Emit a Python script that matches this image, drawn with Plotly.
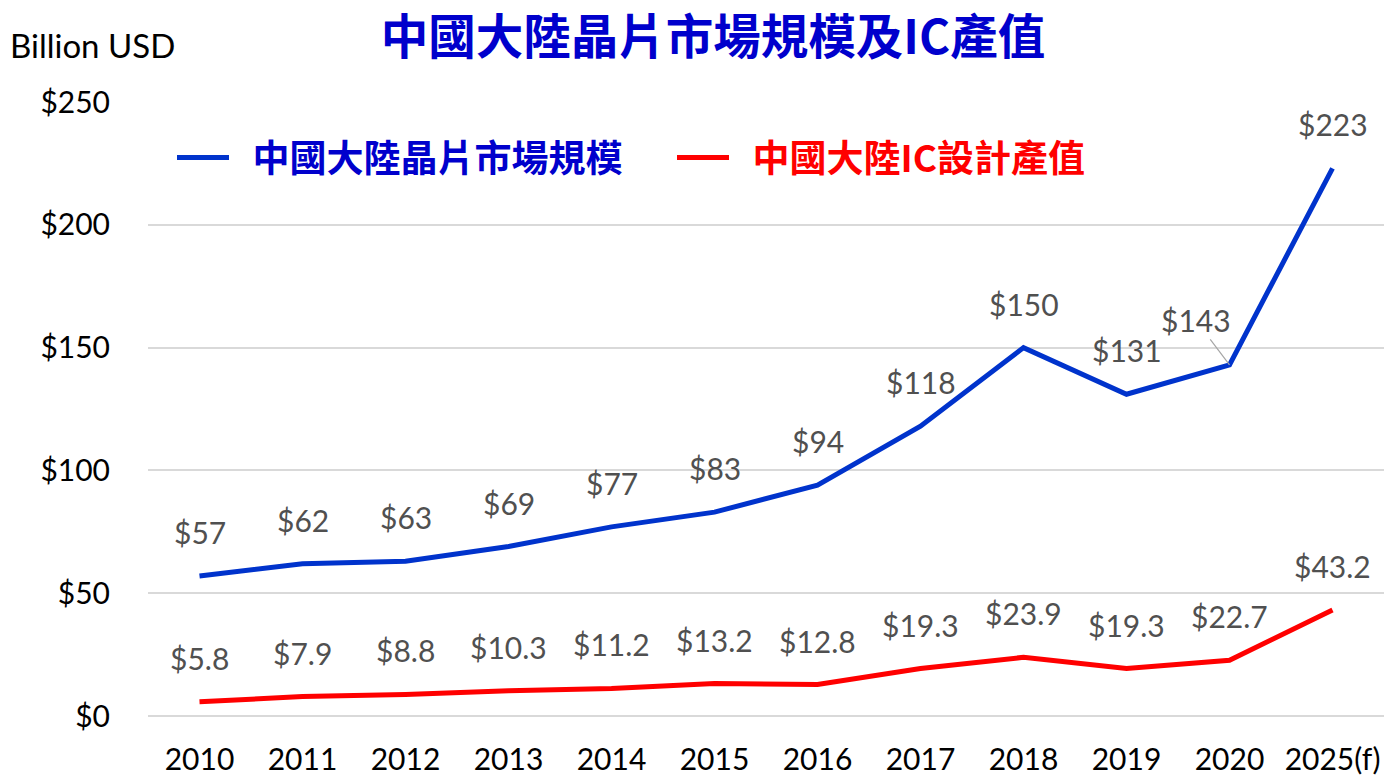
import plotly.graph_objects as go

categories = ["2010", "2011", "2012", "2013", "2014", "2015", "2016", "2017", "2018", "2019", "2020", "2025(f)"]
market = [57, 62, 63, 69, 77, 83, 94, 118, 150, 131, 143, 223]
design = [5.8, 7.9, 8.8, 10.3, 11.2, 13.2, 12.8, 19.3, 23.9, 19.3, 22.7, 43.2]
market_labels = ["$57", "$62", "$63", "$69", "$77", "$83", "$94", "$118", "$150", "$131", "$143", "$223"]
design_labels = ["$5.8", "$7.9", "$8.8", "$10.3", "$11.2", "$13.2", "$12.8", "$19.3", "$23.9", "$19.3", "$22.7", "$43.2"]
ytick_vals = [0, 50, 100, 150, 200, 250]
ytick_text = ["$0", "$50", "$100", "$150", "$200", "$250"]

name_market = "中國大陸晶片市場規模"
name_design = "中國大陸IC設計產值"
title_text = "中國大陸晶片市場規模及IC產值"

BLUE_LINE = "#0033CC"
BLUE_TEXT = "#0000CC"
RED = "#FF0000"
LABEL = "#505050"
CJK = "Noto Sans CJK TC"
LAT = "Lato, Noto Sans, sans-serif"
GAP = "\u2002"

fig = go.Figure()
fig.add_trace(go.Scatter(
    x=categories, y=market, mode="lines",
    line=dict(color=BLUE_LINE, width=5),
    name=f"{GAP}<span style='color:{BLUE_TEXT}'><b>{name_market}</b></span>",
))
fig.add_trace(go.Scatter(
    x=categories, y=design, mode="lines",
    line=dict(color=RED, width=5),
    name=f"{GAP}<span style='color:{RED}'><b>{name_design}</b></span>",
))

annotations = []
for i, (c, v, t) in enumerate(zip(categories, market, market_labels)):
    if c == "2020":
        annotations.append(dict(
            x=i, y=v, text=t, showarrow=True, ax=-34, ay=-45,
            arrowhead=0, arrowwidth=1.2, arrowcolor="#A6A6A6", standoff=0,
            font=dict(family=LAT, size=30, color=LABEL),
        ))
    else:
        annotations.append(dict(
            x=i, y=v, text=t, showarrow=False, yshift=44,
            font=dict(family=LAT, size=30, color=LABEL),
        ))
for i, (c, v, t) in enumerate(zip(categories, design, design_labels)):
    annotations.append(dict(
        x=i, y=v, text=t, showarrow=False, yshift=44,
        font=dict(family=LAT, size=30, color=LABEL),
    ))

annotations.append(dict(
    xref="paper", yref="paper", x=(92 - 148) / 1236, y=(716 - 45) / 614,
    xanchor="center", yanchor="middle",
    text="Billion USD", showarrow=False, font=dict(family=LAT, size=33, color="#000000"),
))

fig.update_layout(
    width=1384, height=775,
    paper_bgcolor="white", plot_bgcolor="white",
    margin=dict(l=148, r=0, t=102, b=59),
    title=dict(
        text=f"<b>{title_text}</b>", x=713 / 1384, xref="container", xanchor="center",
        y=1 - 37 / 775, yref="container", yanchor="middle",
        font=dict(family=CJK, size=47.5, color=BLUE_TEXT),
    ),
    legend=dict(
        orientation="h", x=(172 - 148) / 1236, xanchor="left", y=(716 - 158) / 614, yanchor="middle",
        font=dict(family=CJK, size=37, color=BLUE_TEXT),
        bgcolor="rgba(0,0,0,0)", entrywidth=433, entrywidthmode="pixels", itemwidth=52,
    ),
    showlegend=True,
    annotations=annotations,
    xaxis=dict(
        type="category", range=[-0.5, 11.5], showgrid=False, showline=False, zeroline=False,
        ticks="", tickfont=dict(family=LAT, size=30, color="#000000"), ticklabelstandoff=23,
    ),
    yaxis=dict(
        range=[0, 250], tickvals=ytick_vals, ticktext=ytick_text,
        showgrid=True, gridcolor="#D9D9D9", gridwidth=1.5,
        zeroline=True, zerolinecolor="#D9D9D9", zerolinewidth=1.5, showline=False,
        ticks="", tickfont=dict(family=LAT, size=30, color="#000000"), ticklabelstandoff=37,
    ),
)

fig.write_html(
    "out.html",
    config={"displayModeBar": False},
    post_script="document.body.style.margin='0';document.body.style.overflow='hidden';",
)
